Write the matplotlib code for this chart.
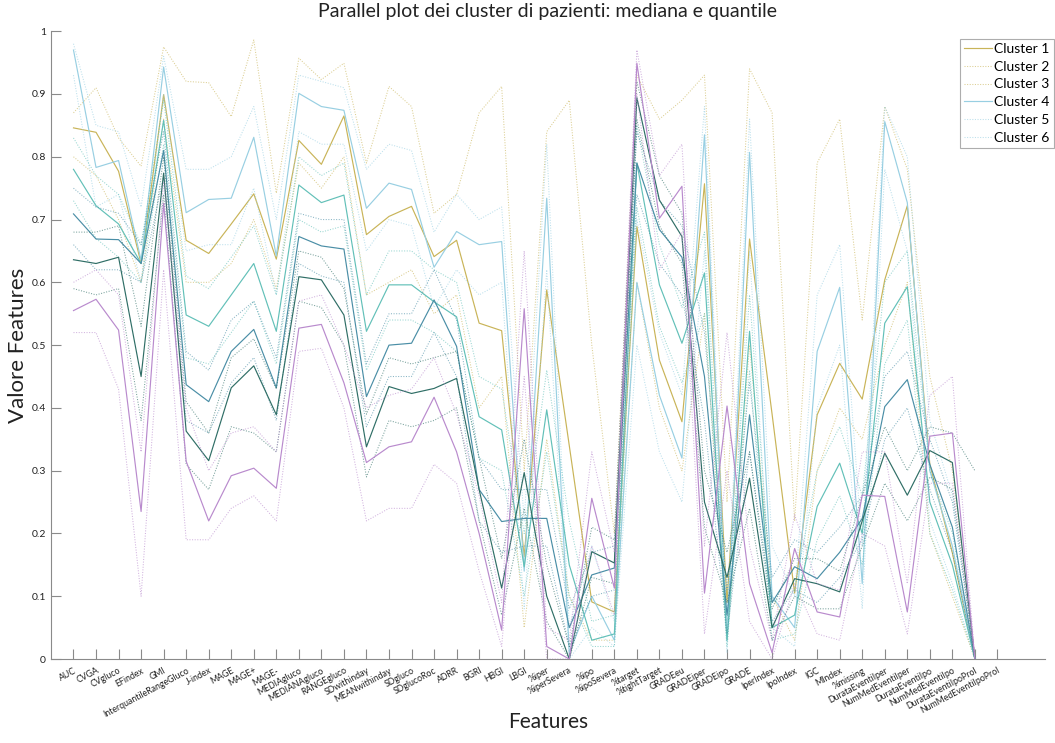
import numpy as np
import matplotlib
matplotlib.use("Agg")
import matplotlib.pyplot as plt

plt.rcParams['font.family'] = ['Lato', 'DejaVu Sans']

nan = np.nan

features = ['AUC', 'CVGA', 'CVgluco', 'EFindex', 'GMI', 'InterquantileRangeGluco',
            'J-index', 'MAGE', 'MAGE+', 'MAGE-', 'MEDIAgluco', 'MEDIANAgluco',
            'RANGEgluco', 'SDwithinday', 'MEANwithinday', 'SDgluco', 'SDglucoRoc',
            'ADRR', 'BGRI', 'HBGI', 'LBGI', '%iper', '%iperSevera', '%ipo',
            '%ipoSevera', '%target', '%tightTarget', 'GRADEeu', 'GRADEiper',
            'GRADEipo', 'GRADE', 'IperIndex', 'IpoIndex', 'IGC', 'MIndex',
            '%missing', 'DurataEventiIper', 'NumMedEventiIper', 'DurataEventiIpo',
            'NumMedEventiIpo', 'DurataEventiIpoProl', 'NumMedEventiIpoProl']

# cluster 1
c1_med = [.846, .839, .777, .630, .899, .667, .646, .693, .741, .637, .826, .788, .865, .676,
          .705, .721, .641, .667, .535, .523, .163, .588, .340, .091, .075, .689, .476, .378,
          .757, .090, .669, .390, .105, .389, .471, .414, .604, .722, .310, .169, 0, nan]
c1_low = [.80, .77, .70, .60, .86, .60, .60, .63, .70, .59, .79, .75, .80, .58, .60, .62, .55,
          .58, .40, .45, .05, .35, .10, .03, .03, .60, .40, .30, .55, .03, .50, .10, .03, .30,
          .40, .35, .50, .60, .20, .10, 0, nan]
c1_high = [.87, .91, .83, .785, .975, .92, .918, .864, .986, .742, .957, .923, .949, .79, .912,
           .88, .71, .74, .87, .912, .30, .84, .89, .50, .20, .93, .86, .89, .93, .25, .94, .87,
           .22, .79, .86, .54, .88, .78, .45, .30, 0, nan]
# cluster 2
c2_med = [.97, .783, .794, .635, .943, .711, .732, .734, .831, .642, .901, .880, .874, .718,
          .758, .748, .624, .681, .66, .665, .14, .734, .01, .10, .03, .60, .42, .32, .835,
          .03, .807, .10, .05, .49, .592, .12, .856, .727, .30, .18, 0, nan]
c2_low = [.93, .72, .74, .60, .90, .65, .66, .66, .75, .58, .84, .82, .82, .65, .70, .69, .56,
          .62, .58, .60, .08, .62, .00, .05, .02, .50, .33, .25, .65, .01, .65, .05, .02, .40,
          .50, .08, .78, .65, .22, .12, 0, nan]
c2_high = [.98, .85, .84, .72, .96, .78, .78, .80, .88, .70, .93, .92, .91, .78, .82, .81, .68,
           .74, .70, .72, .22, .82, .05, .18, .06, .70, .52, .42, .88, .06, .86, .18, .10, .58,
           .66, .18, .88, .80, .38, .26, 0, nan]
# cluster 3
c3_med = [.78, .722, .693, .63, .858, .548, .53, .58, .63, .522, .755, .727, .739, .522, .596,
          .596, .569, .545, .386, .365, .147, .397, .15, .03, .04, .79, .596, .503, .615, .03,
          .522, .05, .07, .243, .312, .20, .535, .593, .25, .15, 0, nan]
c3_low = [.73, .67, .64, .60, .82, .48, .47, .52, .57, .47, .70, .68, .69, .46, .54, .54, .52,
          .49, .32, .30, .10, .33, .10, .02, .02, .72, .53, .44, .55, .02, .46, .03, .04, .19,
          .26, .15, .47, .54, .20, .11, 0, nan]
c3_high = [.83, .77, .74, .66, .89, .61, .59, .64, .69, .58, .80, .77, .79, .58, .65, .65, .62,
           .60, .45, .43, .20, .46, .22, .06, .07, .85, .66, .56, .68, .06, .58, .09, .11, .30,
           .37, .26, .60, .65, .30, .20, 0, nan]
# cluster 4
c4_med = [.709, .669, .668, .63, .81, .437, .41, .49, .525, .432, .673, .658, .653, .418, .50,
          .503, .572, .498, .27, .219, .224, .224, .05, .134, .145, .79, .684, .64, .45, .07,
          .389, .09, .147, .128, .17, .224, .402, .445, .31, .21, 0, nan]
c4_low = [.66, .62, .62, .60, .77, .38, .36, .44, .48, .38, .63, .61, .60, .37, .45, .45, .52,
          .45, .22, .17, .18, .18, .02, .10, .11, .74, .63, .58, .38, .04, .33, .06, .11, .09,
          .13, .19, .35, .40, .27, .17, 0, nan]
c4_high = [.75, .72, .71, .66, .84, .49, .46, .54, .57, .48, .71, .70, .70, .47, .55, .55, .62,
           .54, .32, .27, .27, .27, .08, .17, .18, .84, .73, .69, .52, .11, .44, .13, .19, .17,
           .21, .26, .45, .49, .35, .25, 0, nan]
# cluster 5
c5_med = [.636, .63, .64, .45, .774, .363, .316, .432, .467, .389, .609, .604, .548, .338,
          .434, .423, .431, .447, .27, .113, .297, .10, .00, .171, .153, .894, .731, .673, .25,
          .13, .288, .05, .128, .12, .107, .22, .328, .261, .332, .313, 0, nan]
c5_low = [.59, .58, .59, .38, .74, .31, .27, .37, .36, .33, .57, .56, .50, .29, .38, .37, .38,
          .40, .22, .07, .24, .06, 0, .13, .12, .86, .69, .63, .21, .09, .24, .03, .10, .08,
          .08, .18, .28, .22, .29, .27, 0, nan]
c5_high = [.68, .68, .69, .53, .80, .41, .36, .48, .51, .43, .65, .64, .59, .39, .48, .47, .48,
           .49, .32, .16, .35, .15, .02, .21, .19, .92, .77, .71, .30, .17, .33, .08, .16, .16,
           .14, .26, .37, .30, .37, .36, .30, nan]
# cluster 6
c6_med = [.555, .573, .524, .235, .726, .315, .22, .292, .304, .272, .527, .533, .44, .313,
          .338, .346, .417, .33, .20, .046, .558, .02, .00, .256, .113, .949, .702, .753, .105,
          .403, .12, .01, .176, .075, .067, .261, .259, .075, .355, .36, 0, nan]
c6_low = [.52, .52, .43, .10, .62, .19, .19, .24, .26, .22, .49, .495, .40, .22, .24, .24, .31,
          .28, .14, .02, .45, .00, 0, .18, .07, .90, .62, .68, .04, .30, .06, 0, .12, .04, .03,
          .20, .18, .04, .28, .28, 0, nan]
c6_high = [.60, .62, .58, .33, .76, .40, .30, .36, .37, .33, .57, .58, .50, .40, .42, .43, .48,
           .39, .26, .09, .65, .05, .03, .33, .17, .97, .77, .82, .18, .52, .18, .03, .23, .12,
           .11, .33, .33, .12, .42, .45, 0, nan]

clusters = [(c1_med, c1_low, c1_high), (c2_med, c2_low, c2_high), (c3_med, c3_low, c3_high),
            (c4_med, c4_low, c4_high), (c5_med, c5_low, c5_high), (c6_med, c6_low, c6_high)]
colori = ['#c9b458', '#98cfe2', '#62c0b8', '#4a8ea6', '#2f6e66', '#b98acd']

x = np.arange(1, len(features) + 1)

fig = plt.figure(figsize=(10.55, 7.43), dpi=100)
ax = fig.add_axes([0.0483, 0.113, 0.942, 0.845])

linee = []
for (med, low, high), col in zip(clusters, colori):
    l1, = ax.plot(x, med, color=col, lw=0.85, ls='-')
    l2, = ax.plot(x, low, color=col, lw=0.75, ls=(0, (1, 1.5)), alpha=0.65)
    l3, = ax.plot(x, high, color=col, lw=0.75, ls=(0, (1, 1.5)), alpha=0.65)
    linee += [l1, l2, l3]

ax.set_xlim(0, 44.1)
ax.set_ylim(0, 1)
ax.set_xticks(x)
ax.set_xticklabels(features, rotation=28, ha='right', rotation_mode='anchor', fontsize=6.3)
ax.set_yticks(np.arange(0, 1.01, 0.1))
ax.set_yticklabels(['0', '0.1', '0.2', '0.3', '0.4', '0.5', '0.6', '0.7', '0.8', '0.9', '1'],
                   fontsize=7.5)
ax.tick_params(direction='in', length=7, width=0.8, color='#8a8a8a', labelcolor='#222222')
ax.tick_params(axis='x', pad=5)
for s in ['top', 'right']:
    ax.spines[s].set_visible(False)
for s in ['left', 'bottom']:
    ax.spines[s].set_color('#8a8a8a')
    ax.spines[s].set_linewidth(0.8)

ax.set_title('Parallel plot dei cluster di pazienti: mediana e quantile', fontsize=14,
             color='#222222', pad=10)
ax.set_xlabel('Features', fontsize=15, color='#222222', va='center')
ax.xaxis.set_label_coords(0.5, -0.1)
ax.set_ylabel('Valore Features', fontsize=16, color='#222222', va='center')
ax.yaxis.set_label_coords(-0.033, 0.5)

leg = ax.legend(linee[:6], ['Cluster 1', 'Cluster 2', 'Cluster 3', 'Cluster 4', 'Cluster 5',
                            'Cluster 6'],
                loc='upper right', bbox_to_anchor=(0.999, 0.948), bbox_transform=fig.transFigure,
                fontsize=10, frameon=True, fancybox=False, handlelength=2.0,
                handletextpad=0.2, borderpad=0.3, labelspacing=0.42, borderaxespad=0)
leg.get_frame().set_edgecolor('#999999')
leg.get_frame().set_linewidth(0.8)

fig.savefig('out.png', dpi=100)
